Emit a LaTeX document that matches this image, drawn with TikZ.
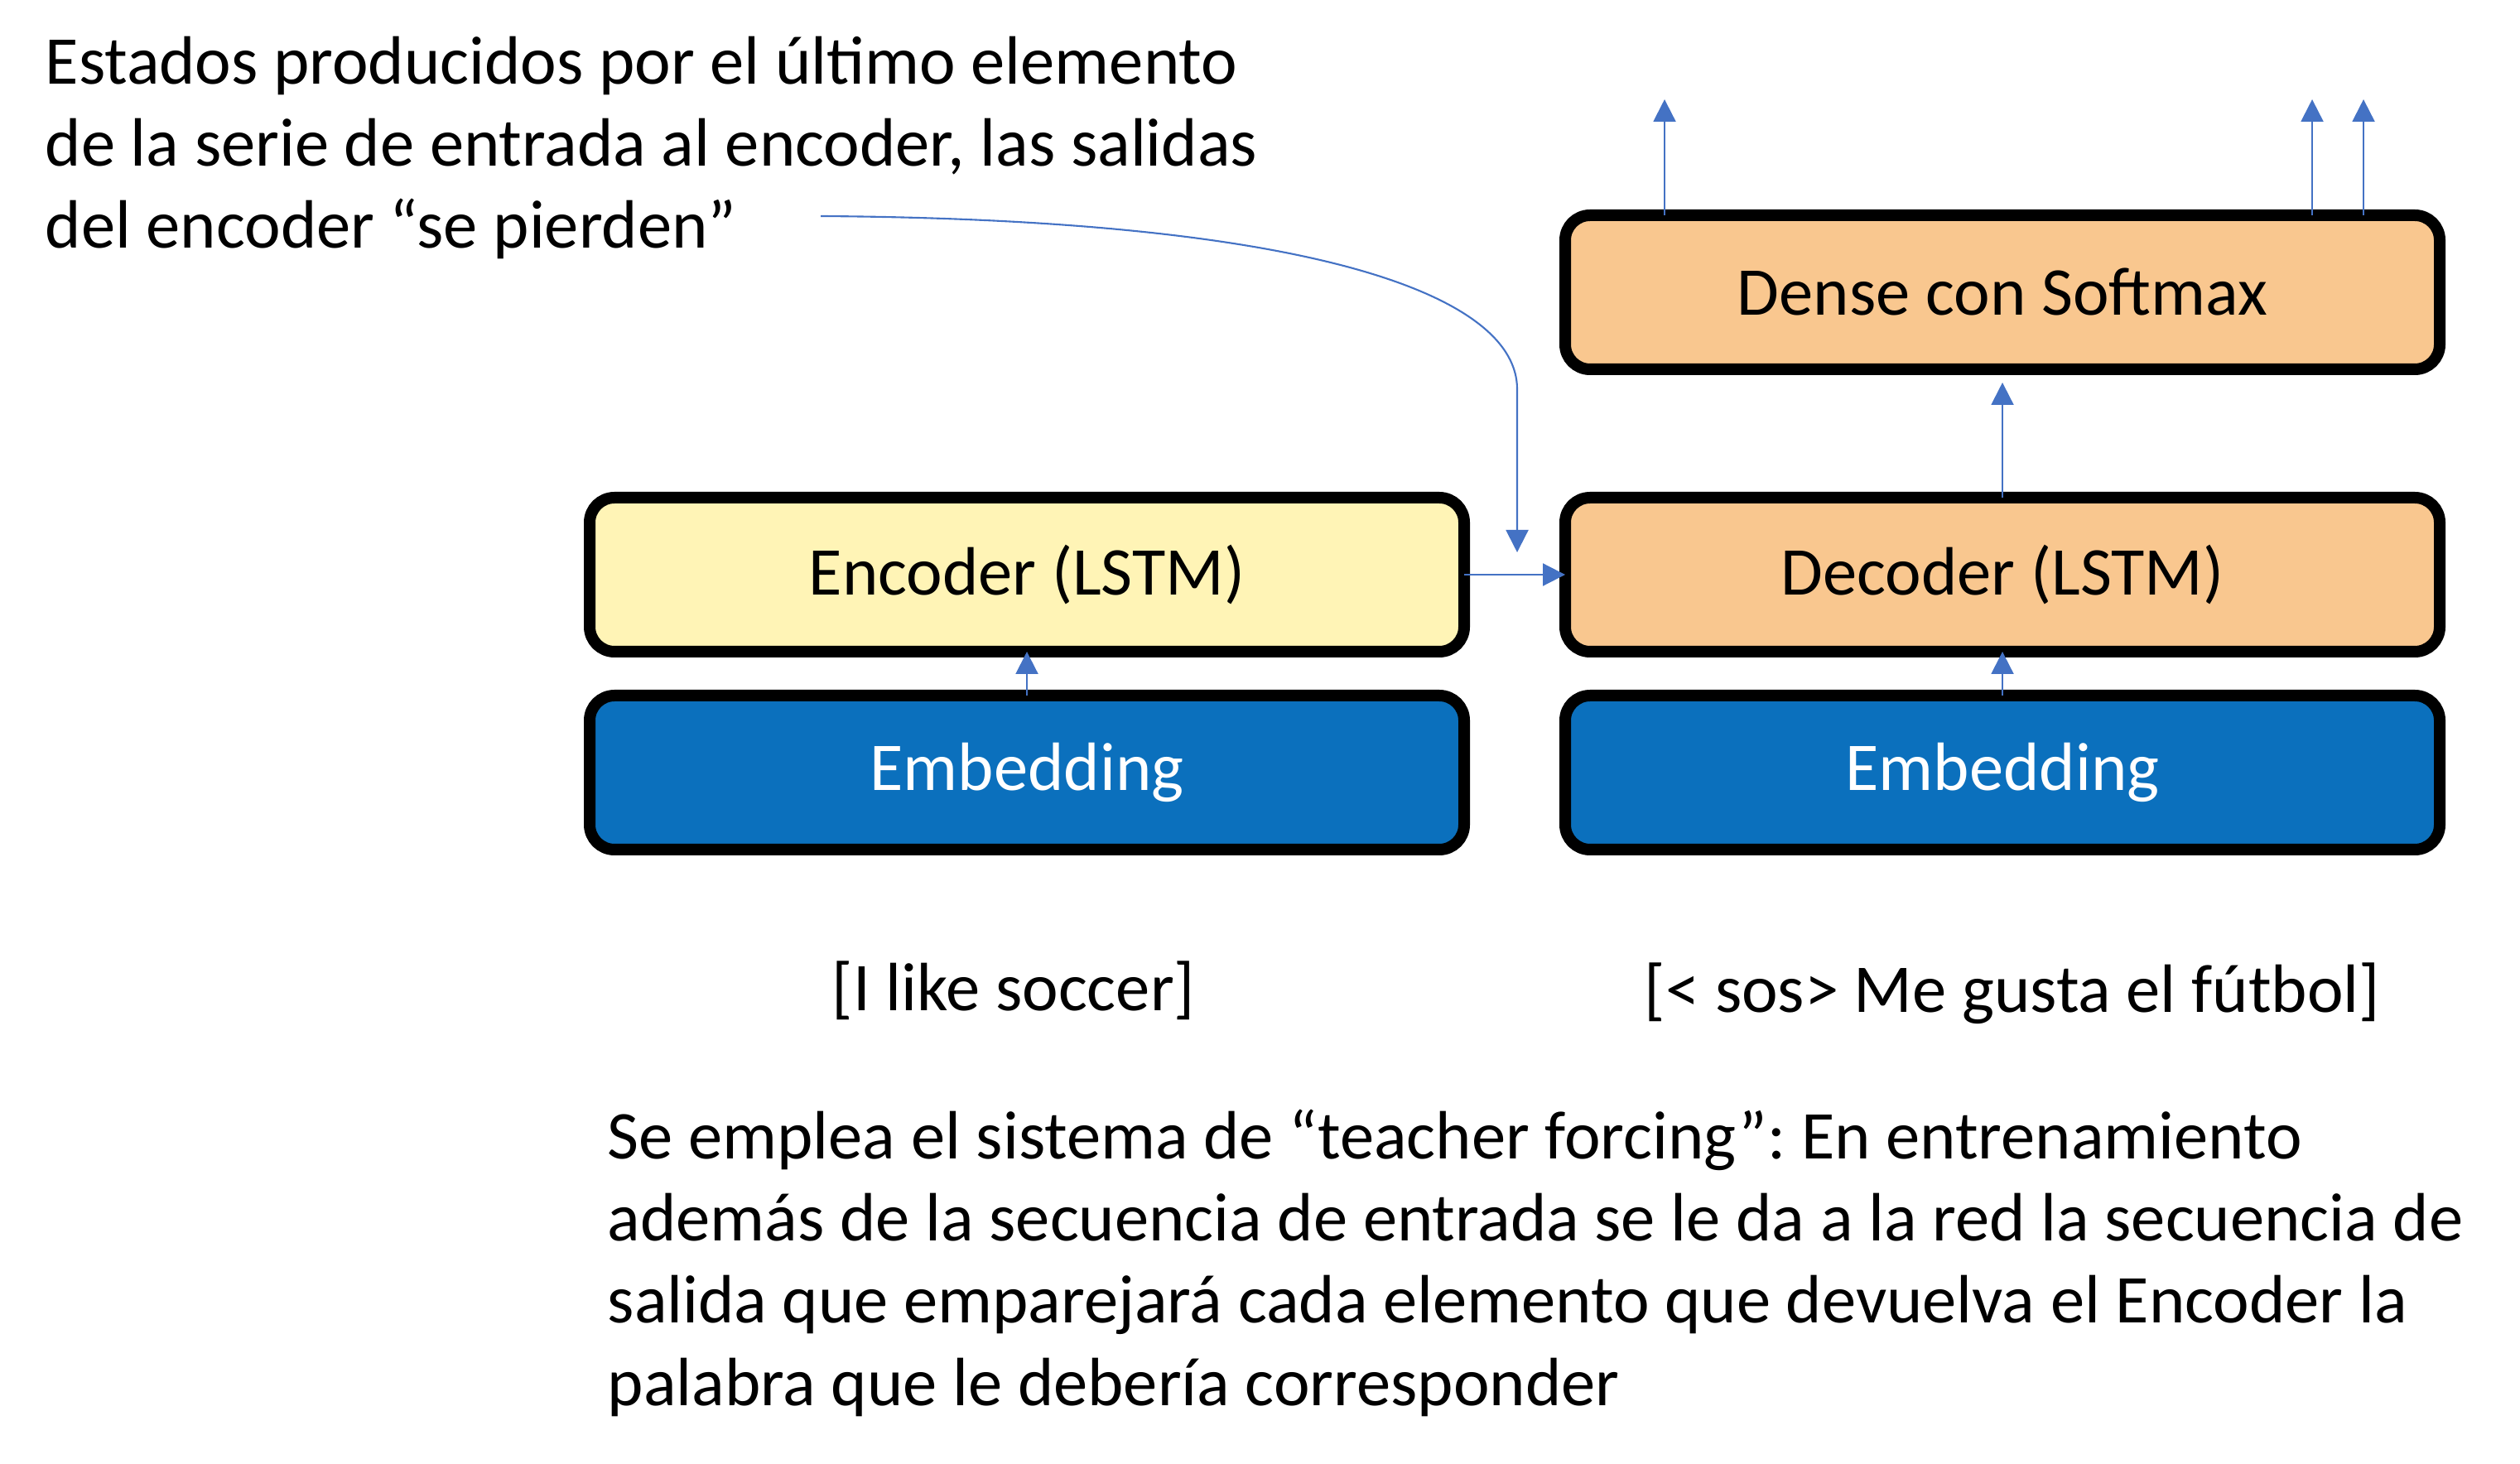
\documentclass[tikz,border=0pt]{standalone}
\usepackage{fontspec}
\setmainfont{Carlito}
\usepackage{tikz}
\usepackage{xcolor}
\usetikzlibrary{positioning}
\usetikzlibrary{arrows.meta}
\frenchspacing
\definecolor{encyellow}{HTML}{FFF4B6}
\definecolor{decorange}{HTML}{F9C78F}
\definecolor{embblue}{HTML}{0B70BD}
\definecolor{arrowblue}{HTML}{4472C4}
\tikzstyle{block} = [rectangle, rounded corners=0.3cm, minimum width=10.56cm, minimum height=1.86cm, text centered, draw=black, line width=0.14cm, outer sep=0pt, font=\fontsize{23.5}{28.2}\selectfont]
\tikzstyle{encoder} = [block, fill=encyellow]
\tikzstyle{decoder} = [block, fill=decorange]
\tikzstyle{embedding} = [block, fill=embblue, text=white]
\tikzstyle{note} = [align=left, anchor=base west, inner sep=0pt, font=\fontsize{23.5}{28.2}\selectfont]
\tikzstyle{seq} = [anchor=base, inner sep=0pt, font=\fontsize{23.5}{28.2}\selectfont]
\tikzstyle{arrow} = [line width=0.6pt, draw=arrowblue, -{Triangle[length=0.27cm, width=0.27cm]}]

\begin{document}
\begin{tikzpicture}[node distance=0.53cm]
        \useasboundingbox (0,0) rectangle (30.43,-17.68);

        \node (enc) [encoder] at (12.40,-6.94) {Encoder (LSTM)};
        \node (encemb) [embedding, below=of enc] {Embedding};
        \node (dec) [decoder, right=1.22cm of enc] {Decoder (LSTM)};
        \node (decemb) [embedding, below=of dec] {Embedding};
        \node (dense) [decoder, above=1.55cm of dec] {Dense con Softmax};

        % base of a multi-line note = its last line
        \node (lastnote) [note] at (0.54,-3.00) {Estados producidos por el último elemento\\de la serie de entrada al encoder, las salidas\\del encoder “se pierden”};
        \node (srcseq) [seq] at (12.24,-12.20) {[I like soccer]};
        \node (tgtseq) [seq] at (24.30,-12.22) {[< sos> Me gusta el fútbol]};
        \node (forcing) [note] at (7.33,-16.97) {Se emplea el sistema de “teacher forcing”: En entrenamiento\\además de la secuencia de entrada se le da a la red la secuencia de\\salida que emparejará cada elemento que devuelva el Encoder la\\palabra que le debería corresponder};

        \coordinate (lost) at (9.91,-2.61);
        \coordinate (state) at (18.32,-6.67);
        \coordinate (out1) at (20.10,-1.20);
        \coordinate (out2) at (27.92,-1.20);
        \coordinate (out3) at (28.54,-1.20);

        \draw [arrow] (encemb) -- (enc);
        \draw [arrow] (decemb) -- (dec);
        \draw [arrow] (enc) -- (dec);
        \draw [arrow, shorten >=0.16cm] (dec) -- (dense);
        \draw [arrow] (dense.north -| out1) -- (out1);
        \draw [arrow] (dense.north -| out2) -- (out2);
        \draw [arrow] (dense.north -| out3) -- (out3);
        \draw [arrow] (lost) .. controls (16.0,-2.65) and (18.32,-3.6) .. (18.32,-4.7) -- (state);
    \end{tikzpicture}
\end{document}
